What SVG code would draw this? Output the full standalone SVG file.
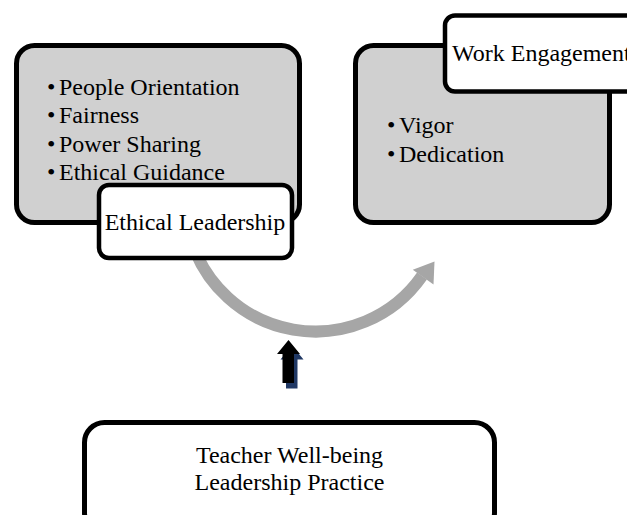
<svg xmlns="http://www.w3.org/2000/svg" width="627" height="515" viewBox="0 0 627 515">
  <style>
    .panel { fill: #d0d0d0; stroke: #000; stroke-width: 5; }
    .label { fill: #fff; stroke: #000; stroke-width: 4.5; }
    .txt { font-family: "Liberation Serif", "Times New Roman", serif; font-size: 24px; fill: #000; }
    .mid { text-anchor: middle; }
    .flow { fill: none; stroke: #a6a6a6; stroke-width: 12; }
  </style>
  <rect width="627" height="515" fill="#fff"/>

  <!-- connectors -->
  <g id="connectors">
    <!-- curved grey arrow from Ethical Leadership toward Work Engagement -->
    <path class="flow" d="M 190 235.7 A 130 130 0 0 0 422 276"/>
    <polygon points="412.8,269.8 433.5,284.5 434.5,261.5" fill="#a6a6a6"/>
    <!-- upward arrow from Teacher Well-being Leadership Practice (with offset shadow) -->
    <polygon points="292,345.5 303.5,359.5 297.5,359.5 297.5,388.5 286,388.5 286,359.5 280.5,359.5" fill="#203864"/>
    <polygon points="288.5,340 300,354 294,354 294,383 282.5,383 282.5,354 277,354" fill="#000"/>
  </g>

  <!-- Ethical Leadership panel -->
  <g id="ethical-leadership-panel">
    <rect class="panel" x="16.5" y="45.5" width="283" height="177" rx="18"/>
    <text class="txt" x="47" y="95">•</text>
    <text class="txt" x="59" y="95">People Orientation</text>
    <text class="txt" x="47" y="123">•</text>
    <text class="txt" x="59" y="123">Fairness</text>
    <text class="txt" x="47" y="152">•</text>
    <text class="txt" x="59" y="152">Power Sharing</text>
    <text class="txt" x="47" y="180">•</text>
    <text class="txt" x="59" y="180">Ethical Guidance</text>
  </g>
  <g id="ethical-leadership">
    <rect class="label" x="99" y="185" width="193" height="73" rx="10"/>
    <text class="txt mid" x="195" y="230">Ethical Leadership</text>
  </g>

  <!-- Work Engagement panel -->
  <g id="work-engagement-panel">
    <rect class="panel" x="355.5" y="45.5" width="254" height="177" rx="18"/>
    <text class="txt" x="387" y="133">•</text>
    <text class="txt" x="399" y="133">Vigor</text>
    <text class="txt" x="387" y="162">•</text>
    <text class="txt" x="399" y="162">Dedication</text>
  </g>
  <g id="work-engagement">
    <rect class="label" x="445" y="15.5" width="200" height="76" rx="10"/>
    <text class="txt" x="452" y="61">Work Engagement</text>
  </g>

  <!-- Teacher Well-being Leadership Practice -->
  <g id="teacher-wellbeing">
    <rect class="panel" x="84.5" y="422.5" width="410" height="110" rx="20" style="fill:#fff"/>
    <text class="txt mid" x="289.5" y="463">Teacher Well-being</text>
    <text class="txt mid" x="289.5" y="490">Leadership Practice</text>
  </g>
</svg>
